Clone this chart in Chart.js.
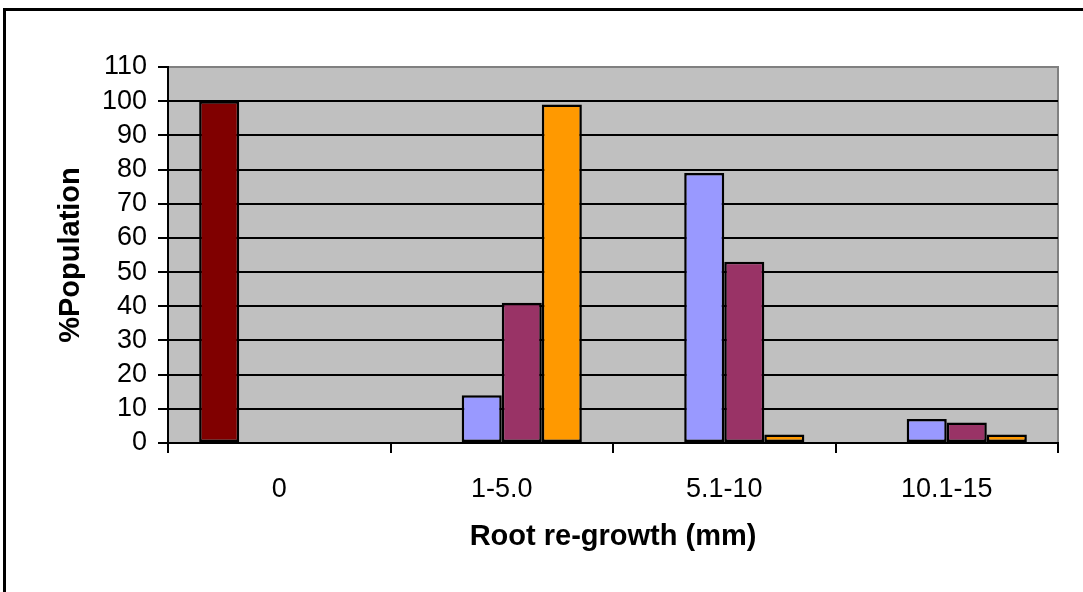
<!DOCTYPE html>
<html>
<head>
<meta charset="utf-8">
<script src="https://cdn.jsdelivr.net/npm/chart.js@4"></script>
<style>
  html, body { margin: 0; padding: 0; background: #fff; }
  #wrap { position: relative; width: 1083px; height: 592px; }
  #frame { position: absolute; left: 3px; top: 8px; width: 1080px; height: 584px;
           border-top: 3px solid #000; border-left: 3px solid #000; box-sizing: border-box; pointer-events: none; }
</style>
</head>
<body>
<div id="wrap">
  <canvas id="chart" width="1083" height="592"></canvas>
  <div id="frame"></div>
</div>
<script>
  // Categories and series values
  const categories = ['0', '1-5.0', '5.1-10', '10.1-15'];
  const seriesA = [100, null, null, null];   // dark red
  const seriesB = [null, 14, 79, 7];         // lavender blue
  const seriesC = [null, 41, 53, 6];         // plum
  const seriesD = [null, 99, 2.5, 2.5];      // orange
  const yTicks = [0, 10, 20, 30, 40, 50, 60, 70, 80, 90, 100, 110];

  const FONT = "'Liberation Sans', Arial, sans-serif";

  // plot area background + grey outline on top/right
  const plotBg = {
    id: 'plotBg',
    beforeDraw(chart) {
      const { ctx, chartArea: a } = chart;
      ctx.save();
      ctx.fillStyle = '#C0C0C0';
      ctx.fillRect(a.left, a.top, a.right - a.left, a.bottom - a.top);
      ctx.strokeStyle = '#808080';
      ctx.lineWidth = 2;
      ctx.beginPath();
      ctx.moveTo(a.left, a.top);
      ctx.lineTo(a.right, a.top);
      ctx.lineTo(a.right, a.bottom);
      ctx.stroke();
      ctx.restore();
    }
  };

  function bars(data, color) {
    return {
      data: data,
      backgroundColor: color,
      borderColor: '#000',
      borderWidth: 2.5,
      borderSkipped: false
    };
  }

  new Chart(document.getElementById('chart'), {
    type: 'bar',
    data: {
      labels: categories,
      datasets: [
        bars(seriesA, '#800000'),
        bars(seriesB, '#9999FF'),
        bars(seriesC, '#993366'),
        bars(seriesD, '#FF9900')
      ]
    },
    plugins: [plotBg],
    options: {
      responsive: false,
      animation: false,
      devicePixelRatio: 1,
      layout: { padding: { left: 0, right: 25, top: 67, bottom: 0 } },
      plugins: { legend: { display: false }, tooltip: { enabled: false } },
      datasets: { bar: { categoryPercentage: 0.72, barPercentage: 1 } },
      scales: {
        x: {
          grid: { display: true, drawOnChartArea: false, drawTicks: true, tickLength: 10, color: '#000', lineWidth: 2, offset: true },
          border: { color: '#000', width: 2 },
          ticks: { color: '#000', font: { family: FONT, size: 27 }, padding: 20, maxRotation: 0, autoSkip: false },
          title: { display: true, text: 'Root re-growth (mm)', color: '#000',
                   font: { family: FONT, size: 29, weight: 'bold' }, padding: { top: 0, bottom: 38 } },
          afterFit(scale) { scale.height = 149; }
        },
        y: {
          min: 0, max: 110,
          afterBuildTicks(scale) { scale.ticks = yTicks.map(v => ({ value: v })); },
          grid: {
            color: ctx => (ctx.tick && ctx.tick.value === 110) ? '#808080' : '#000',
            tickColor: '#000',
            lineWidth: 2, tickLength: 10
          },
          border: { color: '#000', width: 2 },
          ticks: { color: '#000', font: { family: FONT, size: 27 }, padding: 11, autoSkip: false },
          title: { display: true, text: '%Population', color: '#000',
                   font: { family: FONT, size: 29, weight: 'bold' }, padding: { top: 54, bottom: 0 } },
          afterFit(scale) { scale.width = 168; }
        }
      }
    }
  });
</script>
</body>
</html>
